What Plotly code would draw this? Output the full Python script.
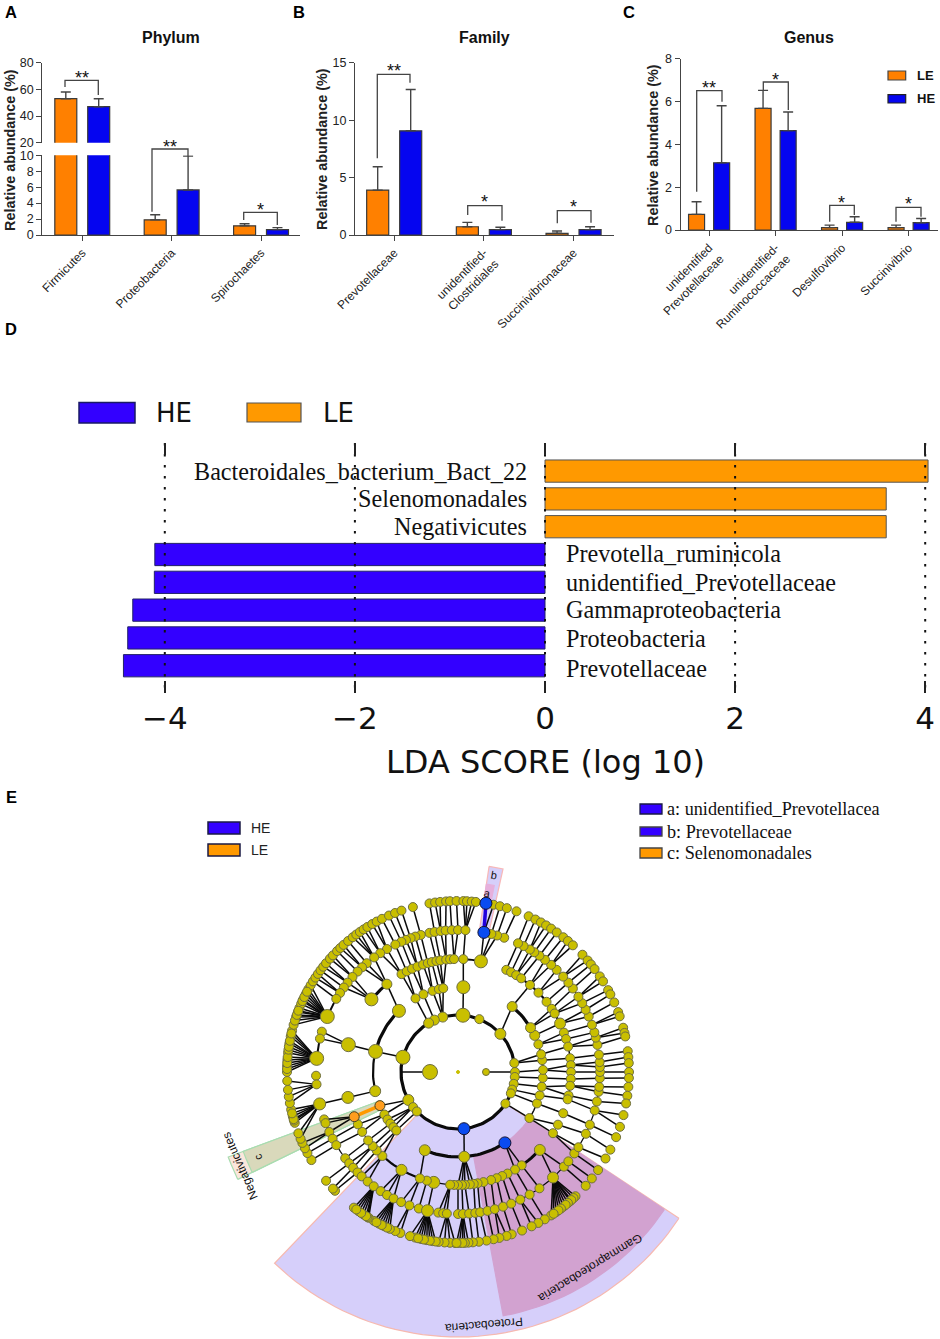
import math
import plotly.graph_objects as go

W, H = 940, 1339
LE_C, HE_C = "#ff8000", "#0505f0"
LDA_LE, LDA_HE = "#ff9900", "#3300ff"
SANS, SERIF, DJV = "Liberation Sans", "Liberation Serif", "DejaVu Sans"

# ---------- panels A-C ----------
phylum = ["Firmicutes", "Proteobacteria", "Spirochaetes"]
phylum_le = [53, 1.9, 1.15]
phylum_le_err = [5, 0.65, 0.27]
phylum_he = [47, 5.65, 0.68]
phylum_he_err = [6, 4.25, 0.25]

family = ["Prevotellaceae", "unidentified-<br>Clostridiales", "Succinivibrionaceae"]
family_le = [3.91, 0.72, 0.15]
family_le_err = [2.03, 0.38, 0.2]
family_he = [9.07, 0.47, 0.47]
family_he_err = [3.6, 0.2, 0.25]

genus = ["unidentified<br>Prevotellaceae", "unidentified-<br>Ruminococcaceae", "Desulfovibrio", "Succinivibrio"]
genus_le = [0.73, 5.68, 0.11, 0.11]
genus_le_err = [0.59, 0.84, 0.12, 0.12]
genus_he = [3.14, 4.64, 0.36, 0.34]
genus_he_err = [2.66, 0.87, 0.26, 0.2]

# bracket: left x, left y, top y, right x, right y, star text, star x, star y (page pixels)
brackets = [
    (65, 87, 80.3, 98.3, 95, "**", 81.7, 78),
    (152, 211.7, 149, 188, 156, "**", 170, 147),
    (243.7, 220, 212.3, 277.3, 225, "*", 260.7, 210),
    (377.3, 158.3, 74.3, 410, 82.7, "**", 394, 71),
    (467.7, 215, 205.7, 502, 220.7, "*", 484.3, 202),
    (557.3, 223.3, 210.7, 591, 222.7, "*", 573.7, 207),
    (696.7, 191.7, 90.7, 722, 101.7, "**", 709, 88),
    (763.3, 90, 82, 788.3, 110, "*", 775.3, 80),
    (829.7, 221.7, 205.3, 854.3, 215, "*", 841, 203),
    (896, 221.7, 207.3, 921, 216.7, "*", 908.3, 204),
]

# ---------- panel D ----------
lda_names = ["Bacteroidales_bacterium_Bact_22", "Selenomonadales", "Negativicutes",
             "Prevotella_ruminicola", "unidentified_Prevotellaceae",
             "Gammaproteobacteria", "Proteobacteria", "Prevotellaceae"]
lda_scores = [4.03, 3.59, 3.59, -4.105, -4.11, -4.337, -4.39, -4.435]
lda_ticks = [-4, -2, 0, 2, 4]
lda_label_shift = [0, 0, 0, 1, 0, 1, -1, -3]

# ---------- panel E: cladogram rings, degrees clockwise from top ----------
ring_radius = [28, 57, 85, 113, 142, 171]
ring1 = [270, 90]
ring2 = [285, 5, 344.5, 335.5, 329, 22, 48, 81, 90, 95, 102, 108, 112, 123.7, 174, 240.6, 232, 226.2]
ring3 = [3.6, 330, 336, 342.6, 347, 350, 316, 284, 257, 246.7, 240, 236, 232.7, 229.5, 226.5, 203,
         175.8, 146.5, 122.8, 111.7, 106, 100, 94, 88.6, 82, 78, 71, 64.5, 58.6, 39.6]
ring4 = [330, 333, 336, 339, 342, 344.5, 346.6, 349, 351, 354, 356, 358, 2.7, 11.7, 25.3, 28, 31, 34,
         39.6, 45.4, 51.6, 56, 58.8, 64.6, 69.6, 73, 77, 83, 86.5, 90, 93.5, 97, 102, 104, 111.4, 117.8,
         122.8, 133.6, 145.7, 149.7, 154, 157, 160, 163, 167, 170, 172, 174, 176.5, 178, 180, 182, 184,
         192.4, 196, 199.7, 210, 222, 226, 229, 232.7, 238, 242.4, 246.7, 257, 284, 310, 321]
ring5 = [348.4, 350.5, 353, 355, 357.5, 0, 3, 344.8, 342.5, 340.5, 338.5, 336.5, 333.8, 330, 326.8, 323.8,
         320, 317.5, 315, 312, 309, 306.5, 303.8, 301, 293, 286.5, 283.6, 275.5, 268.5, 265, 257, 250.5,
         248.9, 245, 242, 239, 232.6, 230, 227.6, 225, 222.7, 219.5, 216.4, 213, 210, 207, 203.6, 200,
         196, 192.4, 188, 186, 184.5, 180, 178, 175.5, 173, 171, 168, 165, 161.5, 158, 154, 149.7, 145,
         138, 131.8, 129, 125, 122, 115.8, 111.8, 105.7, 102, 98, 96, 92.5, 90, 88, 86, 83, 79, 76, 73.8,
         70.6, 67, 64, 61, 58, 54, 51, 47.8, 44, 41, 37.8, 35, 32.5, 30.4, 27.5, 25, 19, 16, 13.6, 10.5]
ring6 = [350.4, 352.3, 354, 356, 357.3, 359.5, 1.8, 3, 4.6, 6, 9.4, 12, 14.2, 16.6, 20, 24.4, 26.9, 29, 31,
         33, 35.3, 38, 40, 42.2, 46.7, 49.3, 51, 53, 56, 58, 61.4, 63, 66, 69.5, 71, 75, 76.8, 78, 83, 85,
         87, 90, 92, 95, 98, 100.6, 104.6, 108.7, 112.4, 117, 120.4, 125, 128.5, 131.7, 136.6, 139, 142,
         145, 147, 149.5, 152, 154.5, 158, 161.7, 163.5, 166, 168, 170.4, 173, 175, 176.5, 177.7, 179.5,
         181, 182.7, 184.5, 186.5, 188.5, 190.5, 192.5, 194.5, 196.3, 199.7, 201.5, 203.5, 205.5, 207.5,
         209.5, 211.5, 213.5, 215.5, 217.5, 226, 227, 230.5, 239, 241.7, 243.5, 245.5, 247, 249, 252.7, 255,
         257.3, 259.5, 261.7, 264, 267, 270, 272, 274, 276.5, 279.6, 282, 284, 286, 288.8, 290.5, 292, 293.5,
         295, 297, 299, 300.5, 302, 303.5, 305, 306.5, 308, 309.5, 311.5, 313, 315, 316.5, 318, 320, 322,
         323.5, 325, 326.5, 328, 329.9, 331.6, 333.6, 336.2, 338.4, 340.7, 344.7,
         287.5, 289.5, 291, 294.5, 296, 298, 271, 273, 275, 277.5, 278.5, 280.5, 283, 253.5, 254, 256,
         137.5, 138.5, 140, 141, 143, 144, 146, 212, 212.5, 214.5, 216.5, 204.5, 206.5, 208.5,
         187.5, 189.5, 191.5, 193.5, 178.5, 180.5]
rings = [ring1, ring2, ring3, ring4, ring5, ring6]
ring_sizes = [7, 9, 9, 9, 9, 9]
link_tolerance = [None, None, 9, 5, 4.5, 12]
# fans: ring 5 parent angle, ring 6 angle span gathered by that parent
fans = [(293, 286, 301), (275.5, 270, 284), (265, 258, 268), (257, 247, 257.5), (138, 136, 147.5),
        (216.4, 211, 218), (207, 203, 209.8), (192.4, 187, 196.5), (184.5, 181, 186.6), (178, 175.5, 180.6)]
large_nodes = {(0, 270): 15, (1, 285): 14, (1, 5): 14, (1, 48): 11, (1, 344.5): 10, (1, 335.5): 10, (1, 329): 10,
               (1, 240.6): 11, (2, 3.6): 13, (2, 316): 13, (2, 284): 14, (2, 257): 11, (2, 203): 11,
               (2, 175.8): 11, (2, 58.6): 10, (2, 64.5): 10, (2, 39.6): 10, (3, 11.7): 13, (3, 64.6): 11,
               (3, 133.6): 11, (3, 192.4): 12, (3, 210): 11, (3, 257): 12, (3, 284): 14, (3, 310): 13,
               (3, 321): 10, (4, 293): 14, (4, 275.5): 14, (4, 257): 12, (4, 192.4): 12, (4, 138): 11}
blue_nodes = [(1, 174), (2, 146.5), (4, 10.5), (5, 9.4)]
orange_nodes = [(2, 246.7), (3, 246.7)]
# arcs: radius index, start, end, width
arcs = [(1, 0, 360, 3.2), (2, 257, 284, 2.2), (2, 284, 316, 3.2), (2, 39.6, 58.6, 3.2), (2, 146.5, 203, 3.2),
        (2, 58.6, 122.8, 1.5), (2, 226.5, 246.7, 1.5), (2, 330, 350, 1.5),
        (3, 358, 371.7, 2), (3, 34, 64.6, 2.2), (3, 64.6, 104, 1.5), (3, 133.6, 145.7, 3), (3, 199.7, 222, 2.2),
        (3, 145.7, 199.7, 1.2), (3, 310, 321, 3), (3, 330, 346.6, 1.2), (3, 222, 246.7, 1.2),
        (4, 293, 326.8, 2), (4, 275.5, 286.5, 2), (4, 265, 268.5, 2), (4, 330, 348.4, 1.2), (4, 25, 70, 1.2),
        (4, 83, 122, 1.2), (4, 131, 175, 1.2), (4, 196, 250, 1.2)]
# bands: inner radius, outer radius, start, end, fill, edge
bands = [(57, 265, 123.5, 223.8, "#d6cffa", "#f6b9b0"),
         (85, 248, 123.7, 169.5, "#d2a2d0", "#d2a2d0"),
         (142, 208, 8.6, 12.5, "#d6cffa", "#f8b8b8"),
         (171, 190, 8.6, 11, "#e6b0dc", "#e6b0dc"),
         (85, 245, 244, 249.7, "#fbe6dc", "#a8dcb0"),
         (85, 229, 244, 249.7, "#d9d9bb", "#a8dcb0")]
# ---------- helpers ----------
CX, CY = 458, 1072


def ox(px):
    return px - CX


def oy(py):
    return CY - py


def polar(r, a):
    t = math.radians(a)
    return r * math.sin(t), r * math.cos(t)


def adiff(a, b):
    return abs((a - b + 180) % 360 - 180)


fig = go.Figure()


def bars(names, le, le_err, he, he_err, xa, ya, width, off_le, off_he):
    for vals, err, col, off, nm in [(le, le_err, LE_C, off_le, "LE"), (he, he_err, HE_C, off_he, "HE")]:
        fig.add_trace(go.Bar(x=names, y=vals, width=width, offset=off, xaxis=xa, yaxis=ya, name=nm,
                             marker=dict(color=col, line=dict(color="#3a3a3a", width=1.2)),
                             error_y=dict(type="data", symmetric=False, array=err, arrayminus=[0] * len(err),
                                          color="#444444", thickness=1.4, width=5),
                             showlegend=False))


bars(phylum, phylum_le, phylum_le_err, phylum_he, phylum_he_err, "x", "y", 0.246, -0.307, 0.061)
bars(phylum, phylum_le, phylum_le_err, phylum_he, phylum_he_err, "x2", "y2", 0.246, -0.307, 0.061)
bars(family, family_le, family_le_err, family_he, family_he_err, "x3", "y3", 0.246, -0.307, 0.061)
bars(genus, genus_le, genus_le_err, genus_he, genus_he_err, "x4", "y4", 0.241, -0.309, 0.068)

# panel D bars
rows = list(range(len(lda_names)))
le_rows = [i for i in rows if lda_scores[i] > 0]
he_rows = [i for i in rows if lda_scores[i] < 0]
fig.add_trace(go.Bar(y=le_rows, x=[lda_scores[i] for i in le_rows], orientation="h", width=0.8, xaxis="x5", yaxis="y5",
                     marker=dict(color=LDA_LE, line=dict(color="#555555", width=1)), showlegend=False))
fig.add_trace(go.Bar(y=he_rows, x=[lda_scores[i] for i in he_rows], orientation="h", width=0.8, xaxis="x5", yaxis="y5",
                     marker=dict(color=LDA_HE, line=dict(color="#222266", width=1)), showlegend=False))
gx, gy = [], []
for t in lda_ticks:
    gx += [t, t, None]
    gy += [-1.01, 7.98, None]
fig.add_trace(go.Scatter(x=gx, y=gy, mode="lines", xaxis="x5", yaxis="y5", showlegend=False,
                         line=dict(color="#111111", width=2, dash="2.5px,8.5px")))

OV = dict(xaxis="x6", yaxis="y6", showlegend=False, hoverinfo="skip")

# bands
for r0, r1, a0, a1, fill, edge in bands:
    n = max(3, int(abs(a1 - a0) / 2))
    outer = [polar(r1, a0 + (a1 - a0) * i / n) for i in range(n + 1)]
    inner = [polar(r0, a1 - (a1 - a0) * i / n) for i in range(n + 1)]
    pts = outer + inner + [outer[0]]
    fig.add_trace(go.Scatter(x=[p[0] for p in pts], y=[p[1] for p in pts], mode="lines", fill="toself",
                             fillcolor=fill, line=dict(color=edge, width=1.2), **OV))


def fan_parent(a):
    for parent, lo, hi in fans:
        if lo <= a <= hi:
            return parent
    return None


# edges
ex, ey = [], []
for k in range(2, 6):
    parents = rings[k - 1]
    for a in rings[k]:
        p = fan_parent(a) if k == 5 else None
        if p is None:
            p = min(parents, key=lambda q: adiff(q, a))
            if adiff(p, a) > link_tolerance[k]:
                continue
        x0, y0 = polar(ring_radius[k - 1], p)
        x1, y1 = polar(ring_radius[k], a)
        ex += [x0, x1, None]
        ey += [y0, y1, None]
for a in ring1:
    x0, y0 = polar(ring_radius[0], a)
    x1, y1 = polar(ring_radius[1], a)
    ex += [x0, x1, None]
    ey += [y0, y1, None]
fig.add_trace(go.Scatter(x=ex, y=ey, mode="lines", line=dict(color="#0a0a0a", width=1.5), **OV))

# arcs
for k, a0, a1, w in arcs:
    n = max(2, int((a1 - a0) / 2))
    pts = [polar(ring_radius[k], a0 + (a1 - a0) * i / n) for i in range(n + 1)]
    fig.add_trace(go.Scatter(x=[p[0] for p in pts], y=[p[1] for p in pts], mode="lines",
                             line=dict(color="#0a0a0a", width=w), **OV))

# highlighted edges
b0, b1 = polar(ring_radius[4], 10.5), polar(ring_radius[5], 9.4)
fig.add_trace(go.Scatter(x=[b0[0], b1[0]], y=[b0[1], b1[1]], mode="lines", line=dict(color="#2200dd", width=3.5), **OV))
o0, o1 = polar(ring_radius[2], 246.7), polar(ring_radius[3], 246.7)
fig.add_trace(go.Scatter(x=[o0[0], o1[0]], y=[o0[1], o1[1]], mode="lines", line=dict(color="#ff9900", width=3.5), **OV))

# nodes
nx, ny, ns, nc, nl = [0], [0], [3], ["#c9bf00"], ["#c9bf00"]
for k, ring in enumerate(rings):
    for a in ring:
        x, y = polar(ring_radius[k], a)
        nx.append(x)
        ny.append(y)
        ns.append(large_nodes.get((k, a), ring_sizes[k]))
        if (k, a) in blue_nodes:
            nc.append("#0a4bf0")
            nl.append("#111133")
            ns[-1] = 12
        elif (k, a) in orange_nodes:
            nc.append("#ff9d1e")
            nl.append("#444422")
            ns[-1] = 10
        else:
            nc.append("#c9bf00")
            nl.append("#6f6f40")
order = sorted(range(len(nx)), key=lambda i: nc[i] != "#c9bf00")
fig.add_trace(go.Scatter(x=[nx[i] for i in order], y=[ny[i] for i in order], mode="markers",
                         marker=dict(size=[ns[i] for i in order], color=[nc[i] for i in order], opacity=1,
                                     line=dict(color=[nl[i] for i in order], width=1)), **OV))

# brackets
bx, by = [], []
for x0, y0, yt, x1, y1, *_ in brackets:
    bx += [ox(x0), ox(x0), ox(x1), ox(x1), None]
    by += [oy(y0), oy(yt), oy(yt), oy(y1), None]
fig.add_trace(go.Scatter(x=bx, y=by, mode="lines", line=dict(color="#444444", width=1.3), **OV))

annotations = []
shapes = []


def text(s, x, y, size, family=SANS, color="#111111", bold=False, angle=0, align="center"):
    annotations.append(dict(text=f"<b>{s}</b>" if bold else s, x=ox(x), y=oy(y), xref="x6", yref="y6",
                            showarrow=False, xanchor=align, yanchor="middle", textangle=angle,
                            font=dict(family=family, size=size, color=color)))


def rect(x0, y0, x1, y1, fill, edge, w=1.5):
    shapes.append(dict(type="rect", xref="x6", yref="y6", x0=ox(x0), x1=ox(x1), y0=oy(y0), y1=oy(y1),
                       fillcolor=fill, line=dict(color=edge, width=w)))


for *_, star, sx, sy in brackets:
    text(star, sx, sy, 18)

for s, x, y in [("A", 11, 12), ("B", 299, 12), ("C", 629, 12), ("D", 11, 329), ("E", 11, 797)]:
    text(s, x, y, 16.5, bold=True, color="#000000")
for s, x in [("Phylum", 171), ("Family", 484.5), ("Genus", 809)]:
    text(s, x, 37, 16, bold=True, color="#111111")
for x, y in [(10, 150), (322, 149), (653, 145)]:
    text("Relative abundance (%)", x, y, 14.4, bold=True, angle=-90, color="#222222")

# legend C
rect(888, 71, 905.7, 80, LE_C, "#444444", 1.2)
rect(888, 94.7, 905.7, 103, HE_C, "#222222", 1.2)
text("LE", 915, 75.5, 13, bold=True, align="left")
text("HE", 915, 98.5, 13, bold=True, align="left")

# legend D
rect(79, 402.5, 135, 423, LDA_HE, "#1a1a66", 1.5)
rect(247, 403, 301, 422, LDA_LE, "#555555", 1.2)
text("HE", 154, 413, 26, DJV, align="left")
text("LE", 321, 413, 26, DJV, align="left")

# lda labels
for i, name in enumerate(lda_names):
    pos = lda_scores[i] > 0
    annotations.append(dict(text=name, x=-0.165 if pos else 0.2, y=i, xref="x5", yref="y5", showarrow=False,
                            xanchor="right" if pos else "left", yanchor="middle", yshift=lda_label_shift[i],
                            font=dict(family=SERIF, size=24.2, color="#111111")))
text("LDA SCORE (log 10)", 545, 762, 32, DJV)

# legend E
rect(208, 822, 240, 834, LDA_HE, "#1a1a44", 1.5)
rect(208, 844, 240, 856, LDA_LE, "#1a1a44", 1.5)
text("HE", 249, 828, 14, align="left", color="#222222")
text("LE", 249, 850, 14, align="left", color="#222222")
rect(640, 804, 662, 814, LDA_HE, "#1a1a44", 1.3)
rect(640, 827, 662, 836, LDA_HE, "#444444", 1.3)
rect(640, 848, 662, 858, LDA_LE, "#444444", 1.3)
text("a: unidentified_Prevotellacea", 665, 809, 18.2, SERIF, align="left")
text("b: Prevotellaceae", 665, 832, 18.2, SERIF, align="left")
text("c: Selenomonadales", 665, 853, 18.2, SERIF, align="left")

# cladogram labels
text("Negativicutes", 240, 1166, 12, angle=-113.5)
text("c", 258, 1157, 11, angle=-113.5)
text("b", 494, 875, 11, angle=10)
text("a", 487, 893, 11, angle=10)
text("Gammaproteobacteria", 590, 1268, 12, angle=148.5)
text("Proteobacteria", 484, 1325, 12, angle=175)


def dom_x(a, b):
    return [a / W, b / W]


def dom_y(top, bottom):
    return [1 - bottom / H, 1 - top / H]


tick_font = dict(family=SANS, size=12.5, color="#222222")
AX = dict(showgrid=False, zeroline=False, showline=True, linecolor="#444444", linewidth=1.3, automargin=False,
          ticks="outside", ticklen=5, tickcolor="#444444", tickwidth=1.3, tickfont=tick_font)
xcat = dict(AX, type="category", tickangle=-45, tickfont=dict(family=SANS, size=12, color="#222222"))
layout = dict(
    template="none",
    width=W, height=H, margin=dict(l=0, r=0, t=0, b=0, pad=0, autoexpand=False), paper_bgcolor="white",
    plot_bgcolor="rgba(0,0,0,0)",
    barmode="overlay", showlegend=False, annotations=annotations, shapes=shapes, font=dict(family=SANS),
    xaxis=dict(xcat, domain=dom_x(42.3, 300), range=[-0.447, 2.436], anchor="y"),
    yaxis=dict(AX, domain=dom_y(155.3, 235), range=[0, 10], tickvals=[0, 2, 4, 6, 8, 10], anchor="x"),
    xaxis2=dict(domain=dom_x(42.3, 300), type="category", range=[-0.447, 2.436], visible=False, anchor="y2"),
    yaxis2=dict(AX, domain=dom_y(62.7, 142.7), range=[20, 80], tickvals=[20, 40, 60, 80], anchor="x2"),
    xaxis3=dict(xcat, domain=dom_x(355, 614), range=[-0.437, 2.451], anchor="y3"),
    yaxis3=dict(AX, domain=dom_y(62.7, 235), range=[0, 15], tickvals=[0, 5, 10, 15], anchor="x3"),
    xaxis4=dict(xcat, domain=dom_x(680.7, 938), range=[-0.427, 3.442], anchor="y4"),
    yaxis4=dict(AX, domain=dom_y(58.7, 230), range=[0, 8], tickvals=[0, 2, 4, 6, 8], anchor="x4"),
    xaxis5=dict(domain=[0, 1], range=[-545 / 95.05, 395 / 95.05], tickvals=lda_ticks, showgrid=False, zeroline=False,
                showline=False, ticks="inside", ticklen=12, tickcolor="#222222", tickwidth=1.5, mirror="ticks",
                automargin=False, tickfont=dict(family=DJV, size=31, color="#111111"), ticklabelstandoff=4, anchor="y5"),
    yaxis5=dict(domain=dom_y(443, 693), range=[7.98, -1.01], visible=False, anchor="x5"),
    xaxis6=dict(domain=[0, 1], range=[-CX, W - CX], visible=False, anchor="y6"),
    yaxis6=dict(domain=[0, 1], range=[CY - H, CY], visible=False, anchor="x6"),
)
fig.update_layout(**layout)
fig.write_html("out.html", config={"displayModeBar": False},
               post_script="document.body.style.margin='0';document.body.style.overflow='hidden';")
